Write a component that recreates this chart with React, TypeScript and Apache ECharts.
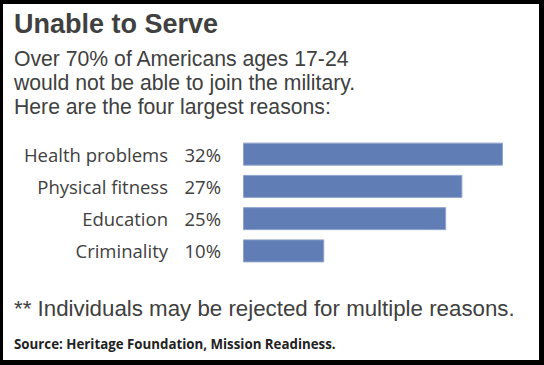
import React, { useEffect, useRef } from "react";
import * as echarts from "echarts";

const categories = ["Health problems", "Physical fitness", "Education", "Criminality"];
const values = [32, 27, 25, 10];
const titleText = "Unable to Serve";
const subtitleLines = [
  "Over 70% of Americans ages 17-24",
  "would not be able to join the military.",
  "Here are the four largest reasons:",
];
const footnote = "** Individuals may be rejected for multiple reasons.";
const sourceText = "Source: Heritage Foundation, Mission Readiness.";

export default function App() {
  const ref = useRef<HTMLDivElement>(null);
  useEffect(() => {
    if (!ref.current) return;
    const chart = echarts.init(ref.current, undefined, { renderer: "svg" });
    const textColor = "#404040";
    chart.setOption({
      animation: false,
      backgroundColor: "#000",
      graphic: [
        { type: "rect", shape: { x: 3, y: 4, width: 536, height: 356 }, style: { fill: "#fff" }, z: -10 },
        {
          type: "text", x: 14, y: 24,
          style: { text: titleText, font: "bold 27px 'Liberation Sans', Arial, sans-serif", fill: textColor, verticalAlign: "middle" },
        },
        ...subtitleLines.map((t, i) => ({
          type: "text", x: 14, y: 58 + i * 24,
          style: { text: t, font: "21.2px 'Liberation Sans', Arial, sans-serif", fill: textColor, verticalAlign: "middle" },
        })),
        {
          type: "text", x: 14, y: 308,
          style: { text: footnote, font: "22.3px 'Liberation Sans', Arial, sans-serif", fill: textColor, verticalAlign: "middle" },
        },
        {
          type: "text", x: 14, y: 344,
          style: { text: sourceText, font: "bold 13.3px 'Open Sans', sans-serif", fill: "#222", verticalAlign: "middle" },
        },
      ],
      grid: { left: 243, right: 41, top: 138, height: 129 },
      xAxis: { type: "value", min: 0, max: 32, show: false },
      yAxis: {
        type: "category",
        data: categories,
        inverse: true,
        axisLine: { show: false },
        axisTick: { show: false },
        axisLabel: { margin: 75, color: textColor, fontSize: 18.5, fontFamily: "'Open Sans', sans-serif" },
      },
      series: [
        {
          type: "bar",
          data: values,
          barWidth: 23,
          itemStyle: { color: "#617db5", borderColor: "#8fa3cc", borderWidth: 1 },
          label: {
            show: true, position: "left", distance: 22, formatter: "{c}%",
            color: textColor, fontSize: 18.5, fontFamily: "'Open Sans', sans-serif",
          },
        },
      ],
    });
    return () => chart.dispose();
  }, []);
  return <div ref={ref} style={{ position: "fixed", left: 0, top: 0, width: 544, height: 365 }} />;
}
